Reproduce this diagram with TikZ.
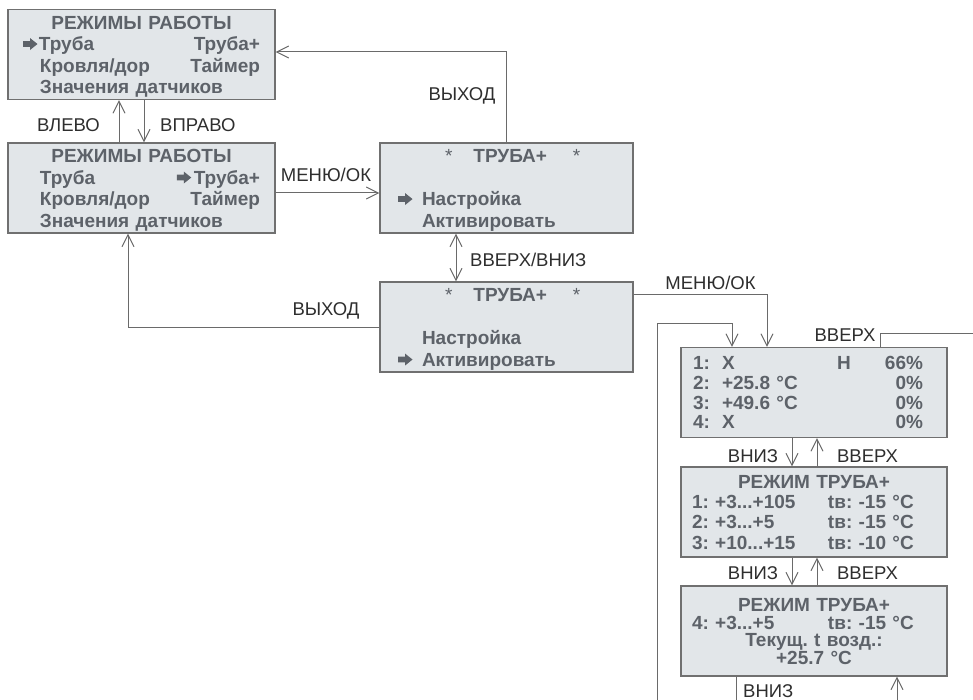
\documentclass[tikz,border=0pt]{standalone}
\usepackage{fontspec}
\setmainfont{Liberation Sans}
\usetikzlibrary{arrows.meta}
\frenchspacing

\definecolor{boxfill}{HTML}{E2E6E9}
\definecolor{boxline}{HTML}{707070}
\definecolor{boxtext}{HTML}{5D6269}
\definecolor{lbltext}{HTML}{2E2E2E}
\definecolor{linkgrey}{HTML}{6A6A6A}

% block arrow in front of the selected item
\newcommand\sel{\tikz[x=1pt,y=1pt,baseline=0pt]\fill[boxtext] (0,3.6) -- (7,3.6) -- (7,0.5) -- (14.5,6.5) -- (7,12.5) -- (7,9.4) -- (0,9.4) -- cycle;}
\newcommand\scrfont{\bfseries\fontsize{19}{21.5}\selectfont}

\tikzset{
    screen/.style={draw=boxline, fill=boxfill, line width=1.3pt, minimum height=90pt,
        inner xsep=0pt, inner ysep=0pt, text height=13.6pt, text depth=64.5pt,
        align=left, text=boxtext, font=\scrfont},
    lbl/.style={text=lbltext, inner sep=0pt, font=\fontsize{18.5}{20}\selectfont},
    link/.style={draw=linkgrey, line width=1pt},
    arr/.style={link, -{Straight Barb[length=12pt,width=12pt]}},
    arrboth/.style={link, {Straight Barb[length=12pt,width=12pt]}-{Straight Barb[length=12pt,width=12pt]}},
}

\begin{document}
\begin{tikzpicture}[x=1pt, y=-1pt]
    \useasboundingbox (0,0) rectangle (973,700);

    % screens
    \node[screen, text width=267pt] (modeA) at (141.5,54.5) {%
        \hspace*{\fill}РЕЖИМЫ РАБОТЫ\hspace*{\fill}\mbox{}\\
        \hspace*{15pt}\makebox[16pt][l]{\sel}Труба\hfill Труба+\hspace*{15pt}\mbox{}\\
        \hspace*{32pt}Кровля/дор\hfill Таймер\hspace*{15pt}\mbox{}\\
        \hspace*{32pt}Значения датчиков};
    \node[screen, text width=267pt] (modeB) at (141.5,188) {%
        \hspace*{\fill}РЕЖИМЫ РАБОТЫ\hspace*{\fill}\mbox{}\\
        \hspace*{32pt}Труба\hfill\makebox[17pt][l]{\sel}Труба+\hspace*{15pt}\mbox{}\\
        \hspace*{32pt}Кровля/дор\hfill Таймер\hspace*{15pt}\mbox{}\\
        \hspace*{32pt}Значения датчиков};
    \node[screen, text width=253pt] (tubeSet) at (506.5,188) {%
        \hspace*{65pt}{\mdseries *}\hspace{21pt}ТРУБА+\hspace{26pt}{\mdseries *}\\
        \mbox{}\\
        \hspace*{18pt}\makebox[24pt][l]{\sel}Настройка\\
        \hspace*{42pt}Активировать};
    \node[screen, text width=253pt] (tubeAct) at (506.5,327) {%
        \hspace*{65pt}{\mdseries *}\hspace{21pt}ТРУБА+\hspace{26pt}{\mdseries *}\\
        \mbox{}\\
        \hspace*{42pt}Настройка\\
        \hspace*{18pt}\makebox[24pt][l]{\sel}Активировать};
    \node[screen, text width=266pt, text depth=59.1pt, font=\bfseries\fontsize{19}{19.7}\selectfont] (sensors) at (814,392.5) {%
        \hspace*{12pt}\makebox[29pt][l]{1:}\makebox[115pt][l]{X}Н\hfill 66\%\hspace*{24pt}\mbox{}\\
        \hspace*{12pt}\makebox[29pt][l]{2:}+25.8 °C\hfill 0\%\hspace*{24pt}\mbox{}\\
        \hspace*{12pt}\makebox[29pt][l]{3:}+49.6 °C\hfill 0\%\hspace*{24pt}\mbox{}\\
        \hspace*{12pt}\makebox[29pt][l]{4:}X\hfill 0\%\hspace*{24pt}\mbox{}};
    \node[screen, text width=266pt, text depth=60.9pt, font=\bfseries\fontsize{19}{20.3}\selectfont] (modeP1) at (814,512) {%
        \hspace*{\fill}РЕЖИМ ТРУБА+\hspace*{\fill}\mbox{}\\
        \hspace*{11pt}\makebox[136pt][l]{1: +3...+105}tв: -15 °C\\
        \hspace*{11pt}\makebox[136pt][l]{2: +3...+5}tв: -15 °C\\
        \hspace*{11pt}\makebox[136pt][l]{3: +10...+15}tв: -10 °C};
    \node[screen, text width=266pt, text depth=52.5pt, font=\bfseries\fontsize{19}{17.5}\selectfont] (modeP2) at (814,631) {%
        \hspace*{\fill}РЕЖИМ ТРУБА+\hspace*{\fill}\mbox{}\\
        \hspace*{11pt}\makebox[136pt][l]{4: +3...+5}tв: -15 °C\\
        \hspace*{\fill}Текущ. t возд.:\hspace*{\fill}\mbox{}\\
        \hspace*{\fill}+25.7 °C\hspace*{\fill}\mbox{}};

    % connectors
    \draw[arr] ([xshift=-22.5pt]modeB.north) -- ([xshift=-22.5pt]modeA.south);
    \draw[arr] ([xshift=2.5pt]modeA.south) -- ([xshift=2.5pt]modeB.north);
    \draw[arr] ([yshift=-5pt]modeB.east) -- ([yshift=-5pt]tubeSet.west);
    \draw[arr] (tubeSet.north) |- ([yshift=2.5pt]modeA.east);
    \draw[arrboth] ([xshift=-50.5pt]tubeSet.south) -- ([xshift=-50.5pt]tubeAct.north);
    \draw[arr] (tubeAct.west) -| ([xshift=-13.5pt]modeB.south);
    \draw[arr] ([yshift=33pt]tubeAct.east) -| ([xshift=-47pt]sensors.north);

    \coordinate (loopBot) at (657,700);
    \coordinate (loopTurn) at (657,323);
    \draw[arr] (loopBot) -- (loopTurn) -| ([xshift=-82pt]sensors.north);
    \coordinate (upExit) at (973,333);
    \draw[link] ([xshift=66pt]sensors.north) |- (upExit);

    \draw[arr] ([xshift=-22pt]sensors.south) -- ([xshift=-22pt]modeP1.north);
    \draw[arr] ([xshift=3pt]modeP1.north) -- ([xshift=3pt]sensors.south);
    \draw[arr] ([xshift=-22pt]modeP1.south) -- ([xshift=-22pt]modeP2.north);
    \draw[arr] ([xshift=3pt]modeP2.north) -- ([xshift=3pt]modeP1.south);

    \coordinate (downBot) at (736,700);
    \draw[link] ([xshift=-78pt]modeP2.south) -- (downBot);
    \coordinate (upBot) at (897,700);
    \draw[arr] (upBot) -- ([xshift=83pt]modeP2.south);

    % labels
    \node[lbl, anchor=east] (lLeft) at (100,125) {ВЛЕВО};
    \node[lbl, anchor=west] (lRight) at (160,125) {ВПРАВО};
    \node[lbl] (lMenuA) at (326,175) {МЕНЮ/ОК};
    \node[lbl] (lExitA) at (462,96) {ВЫХОД};
    \node[lbl, anchor=west] (lUpDown) at (470,259.5) {ВВЕРХ/ВНИЗ};
    \node[lbl] (lExitB) at (326,310.5) {ВЫХОД};
    \node[lbl] (lMenuB) at (710.5,283) {МЕНЮ/ОК};
    \node[lbl] (lUpTop) at (845,335) {ВВЕРХ};
    \node[lbl] (lDownA) at (753,456) {ВНИЗ};
    \node[lbl] (lUpA) at (867.5,456) {ВВЕРХ};
    \node[lbl] (lDownB) at (753,573.5) {ВНИЗ};
    \node[lbl] (lUpB) at (867.5,573.5) {ВВЕРХ};
    \node[lbl, anchor=west] (lDownC) at (743,691.5) {ВНИЗ};
\end{tikzpicture}
\end{document}
